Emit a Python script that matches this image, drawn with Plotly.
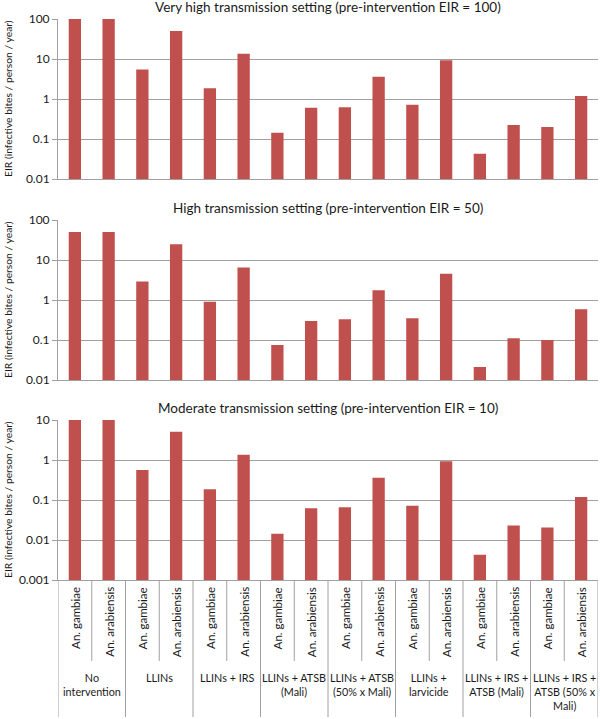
import plotly.graph_objects as go

groups = ["No<br>intervention", "LLINs", "LLINs + IRS", "LLINs + ATSB<br>(Mali)",
          "LLINs + ATSB<br>(50% x Mali)", "LLINs +<br>larvicide",
          "LLINs + IRS +<br>ATSB (Mali)", "LLINs + IRS +<br>ATSB (50% x<br>Mali)"]
species = ["An. gambiae", "An. arabiensis"]

titles = ["Very high transmission setting (pre-intervention EIR = 100)",
          "High transmission setting (pre-intervention EIR = 50)",
          "Moderate transmission setting (pre-intervention EIR = 10)"]

eir_very_high = [100, 100, 5.5, 50, 1.85, 13.5, 0.144, 0.60, 0.62, 3.6, 0.72, 9.3, 0.043, 0.224, 0.20, 1.19]
eir_high = [50, 50, 2.9, 24.6, 0.9, 6.5, 0.075, 0.30, 0.33, 1.75, 0.35, 4.5, 0.021, 0.11, 0.10, 0.59]
eir_moderate = [10, 10, 0.56, 5.1, 0.185, 1.35, 0.0144, 0.062, 0.066, 0.36, 0.072, 0.93, 0.0043, 0.023, 0.0204, 0.119]

series = [eir_very_high, eir_high, eir_moderate]
y_ranges = [[-2, 2], [-2, 2], [-3, 1]]
y_ticks = [[0.01, 0.1, 1, 10, 100], [0.01, 0.1, 1, 10, 100], [0.001, 0.01, 0.1, 1, 10]]
y_ticktext = [["0.01", "0.1", "1", "10", "100"], ["0.01", "0.1", "1", "10", "100"],
              ["0.001", "0.01", "0.1", "1", "10"]]

cats = [f"{g}|{s}" for g in groups for s in species]

W, H = 600, 719
ML, MR, MT, MB = 58, 2, 19, 139
PH = H - MT - MB
def py(pix):  # pixel y -> paper y
    return (H - MB - pix) / PH

domains = [[py(179), py(19)], [py(380), py(220)], [py(580), py(420)]]

BAR = "#C0504D"
GRID = "#A0A0A0"
FONT = "Lato"
TXT = "#1a1a1a"

fig = go.Figure()
for i in range(3):
    sfx = "" if i == 0 else str(i + 1)
    fig.add_trace(go.Bar(x=cats, y=series[i], marker=dict(color=BAR, line=dict(width=0)),
                         xaxis="x" + sfx, yaxis="y" + sfx, showlegend=False))
    fig.layout["xaxis" + sfx] = dict(domain=[0, 1], anchor="y" + sfx, type="category",
                                     range=[-0.5, len(cats) - 0.5], showticklabels=False,
                                     showline=True, linecolor=GRID, linewidth=1,
                                     showgrid=False, ticks="", fixedrange=True)
    fig.layout["yaxis" + sfx] = dict(domain=domains[i], anchor="x" + sfx, type="log",
                                     range=y_ranges[i], tickvals=y_ticks[i], ticktext=y_ticktext[i],
                                     showgrid=True, gridcolor=GRID, gridwidth=1,
                                     showline=True, linecolor=GRID, linewidth=1,
                                     ticks="outside", ticklen=5, tickcolor=GRID,
                                     tickfont=dict(family=FONT, size=12, color=TXT))
    # panel title
    fig.add_annotation(text=titles[i], xref="paper", yref="paper", x=0.5,
                       y=domains[i][1], yshift=12, yanchor="middle", showarrow=False,
                       font=dict(family=FONT, size=13.5, color=TXT))
    # y-axis title
    fig.add_annotation(text="EIR (infective bites / person / year)", xref="paper", yref="paper",
                       x=0, xshift=-50, y=(domains[i][0] + domains[i][1]) / 2,
                       xanchor="center", yanchor="middle",
                       textangle=-90, showarrow=False,
                       font=dict(family=FONT, size=10.3, color=TXT))

# bottom category labels (panel 3)
for j, c in enumerate(cats):
    fig.add_annotation(text=species[j % 2], xref="x3", yref="paper", x=j, y=py(585),
                       yanchor="top", textangle=-90, showarrow=False,
                       font=dict(family=FONT, size=11.5, color=TXT))
for k, g in enumerate(groups):
    fig.add_annotation(text=g, xref="x3", yref="paper", x=2 * k + 0.5, y=py(669),
                       yanchor="top", showarrow=False, align="center",
                       font=dict(family=FONT, size=10.8, color=TXT))

shapes = []
for b in range(len(cats) + 1):
    xb = b - 0.5
    bottom = py(717) if b % 2 == 0 else py(661)
    shapes.append(dict(type="line", xref="x3", yref="paper", x0=xb, x1=xb,
                       y0=0, y1=bottom, line=dict(color=GRID, width=1)))
fig.update_layout(shapes=shapes)

fig.update_layout(width=W, height=H, margin=dict(l=ML, r=MR, t=MT, b=MB),
                  paper_bgcolor="white", plot_bgcolor="white", bargap=0.635,
                  font=dict(family=FONT, color=TXT))

fig.write_html("out.html", config={"displayModeBar": False, "staticPlot": True},
               post_script="document.body.style.margin='0';document.body.style.overflow='hidden';")
